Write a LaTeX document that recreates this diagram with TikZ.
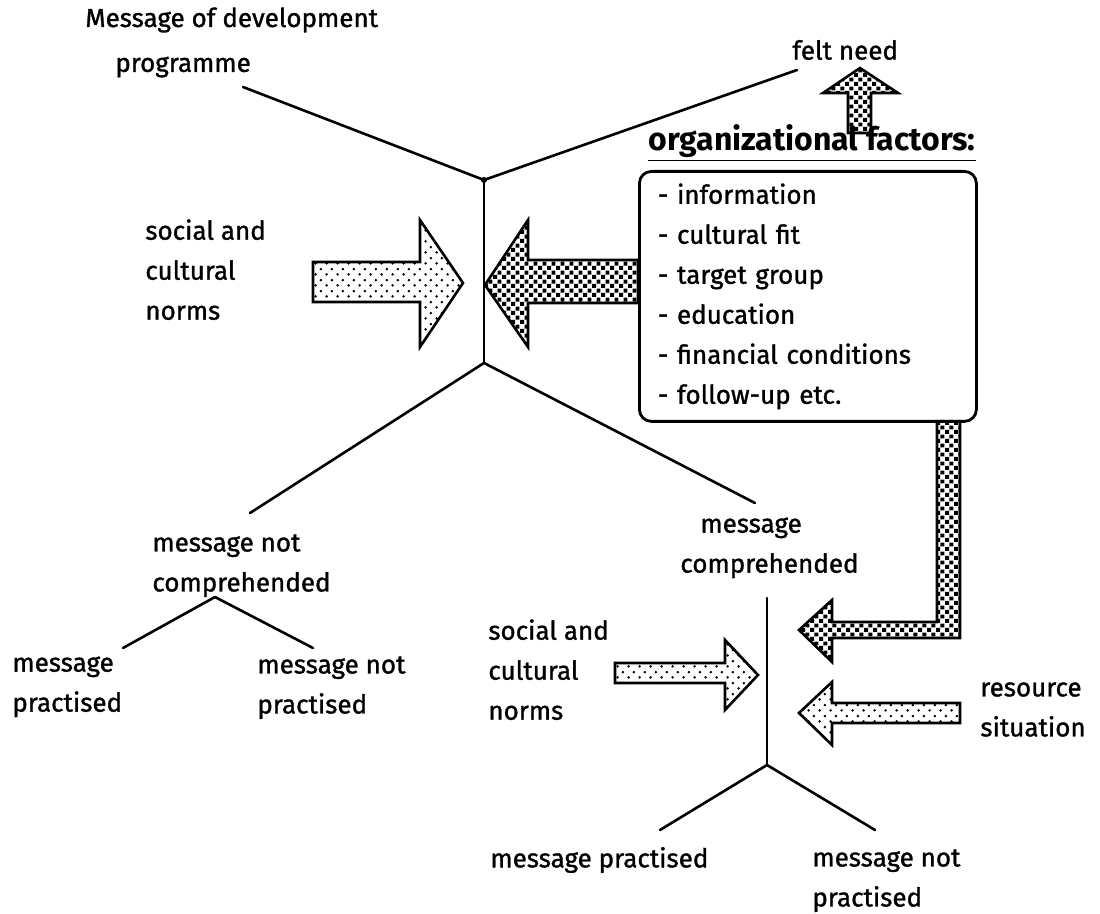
\documentclass[tikz,border=0pt]{standalone}
\usepackage{fontspec}
\setmainfont{Fira Sans}[UprightFeatures={FakeBold=1.2}]
\usepackage{tikz}
\usetikzlibrary{patterns}
\pgfdeclarepatternformonly{lightdots}{\pgfqpoint{0pt}{0pt}}{\pgfqpoint{5.6pt}{5.6pt}}{\pgfqpoint{5.6pt}{5.6pt}}{%
	\pgfpathcircle{\pgfqpoint{1.4pt}{1.4pt}}{0.75pt}%
	\pgfpathcircle{\pgfqpoint{4.2pt}{4.2pt}}{0.75pt}%
	\pgfusepath{fill}}
\pgfdeclarepatternformonly{darkdots}{\pgfqpoint{0pt}{0pt}}{\pgfqpoint{4.4pt}{4.4pt}}{\pgfqpoint{4.4pt}{4.4pt}}{%
	\pgfpathrectangle{\pgfqpoint{0.1pt}{0.1pt}}{\pgfqpoint{2pt}{2pt}}%
	\pgfpathrectangle{\pgfqpoint{2.3pt}{2.3pt}}{\pgfqpoint{2pt}{2pt}}%
	\pgfusepath{fill}}
\tikzstyle{diagram}=[x=0.5pt, y=-0.5pt, font=\fontsize{13}{20}\selectfont]
\tikzstyle{lbl}=[inner sep=0pt, align=left, anchor=north west]
\tikzstyle{lbl1}=[inner sep=0pt, anchor=west]
\tikzstyle{fork}=[-, line width=1.3pt, line cap=round, line join=round]
\tikzstyle{fatarrow}=[draw, line width=1.3pt, pattern=lightdots]
\tikzstyle{fatarrowdark}=[draw, line width=1.3pt, pattern=darkdots]
\tikzstyle{orgbox}=[draw, rounded corners=6pt, line width=1.4pt, anchor=north west, align=left, text width=150pt, inner xsep=9.25pt, minimum height=125pt]

\begin{document}
\begin{tikzpicture}[diagram]
	\useasboundingbox (0,0) rectangle (1100,914);
	% upper funnel
	\node[lbl1] (msg) at (85,20) {Message of development};
	\node[lbl1] (prog) at (115,67) {programme};
	\node[lbl1] (felt) at (792,50) {felt need};
	\coordinate (progend) at (243,87);
	\coordinate (feltend) at (797,70);
	\coordinate (jt) at (484,180);
	\coordinate (jb) at (484,363);
	\draw[fork] (progend) -- (jt) -- (feltend);
	\draw[fork] (jt) -- (jb);
	\fill (jt) circle (1.5pt);
	%%
	\node[lbl1, font=\fontsize{16}{20}\selectfont\bfseries] (orghead) at (648,143) {\underline{organizational factors:}};
	\node[orgbox] (org) at (638,170) {- information\\- cultural fit\\- target group\\- education\\- financial conditions\\- follow-up etc.};
	\node[lbl] (socialA) at (145,219) {social and\\cultural\\norms};
	%%
	\draw[fatarrow] (313,262) -- (420,262) -- (420,220) -- (463,283) -- (420,347) -- (420,302) -- (313,302) -- cycle;
	\draw[fatarrowdark] (638,260) -- (528,260) -- (528,220) -- (485,285) -- (528,347) -- (528,303) -- (638,303) -- cycle;
	\draw[fatarrowdark] (848,133) -- (848,93) -- (823,93) -- (860,68) -- (898,93) -- (871,93) -- (871,133) -- cycle;
	
	%%%% left branch
	\node[lbl] (notcomp) at (152,534) {message not\\comprehended};
	\node[lbl] (prac1) at (12,656) {message\\practised};
	\node[lbl] (nprac1) at (257,656) {message not\\practised};
	\coordinate (cend) at (250,513);
	\coordinate (ja) at (215,597);
	\coordinate (pa) at (123,648);
	\coordinate (pb) at (313,648);
	\draw[fork] (cend) -- (jb);
	\draw[fork] (pa) -- (ja) -- (pb);
	
	%%%% right branch
	\node[lbl] (comp) at (680,517) {\hspace*{10pt}message\\comprehended};
	\node[lbl] (socialB) at (488,619) {social and\\cultural\\norms};
	\node[lbl] (resource) at (980,682) {resource\\situation};
	\node[lbl1] (prac2) at (490,860) {message practised};
	\node[lbl] (nprac2) at (812,849) {message not\\practised};
	\coordinate (dend) at (755,503);
	\coordinate (jc) at (767,598);
	\coordinate (jd) at (767,765);
	\coordinate (pc) at (660,830);
	\coordinate (pd) at (875,830);
	\draw[fork] (jb) -- (dend);
	\draw[fork] (jc) -- (jd);
	\draw[fork] (pc) -- (jd) -- (pd);
	%%
	\draw[fatarrowdark] (937,420) -- (937,622) -- (832,622) -- (832,600) -- (799,630) -- (832,662) -- (832,638) -- (960,638) -- (960,420);
	\draw[fatarrow] (615,663) -- (725,663) -- (725,640) -- (758,675) -- (725,710) -- (725,683) -- (615,683) -- cycle;
	\draw[fatarrow] (960,703) -- (832,703) -- (832,682) -- (799,713) -- (832,745) -- (832,723) -- (960,723) -- cycle;
\end{tikzpicture}
\end{document}
